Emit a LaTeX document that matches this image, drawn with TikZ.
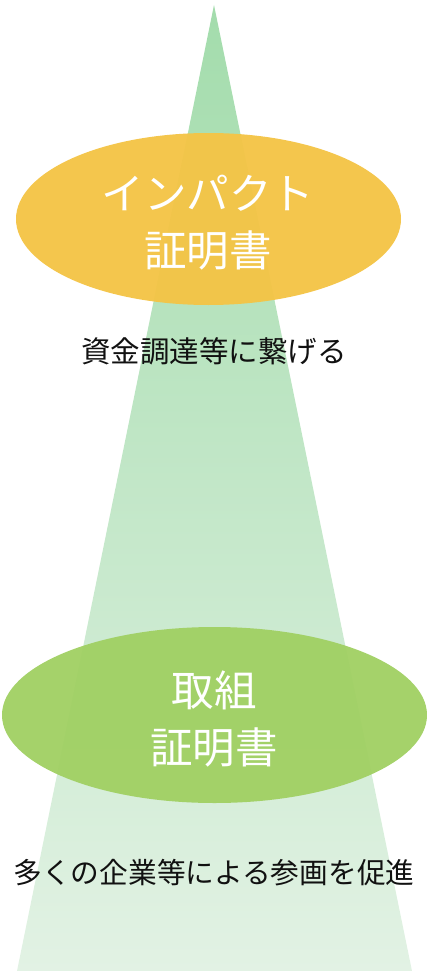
\documentclass[tikz,border=0pt]{standalone}
\usepackage{fontspec}
\setmainfont{Noto Sans CJK JP}
\newfontfamily\jpfont{Noto Sans CJK JP}
\definecolor{tritop}{HTML}{A3DCAC}
\definecolor{tribot}{HTML}{E2F2E4}
\definecolor{yel}{HTML}{F4C446}
\definecolor{grn}{HTML}{A1D064}
\definecolor{txt}{HTML}{111111}
\tikzset{
  oval/.style={draw=none, fill opacity=0.96},
  ovaltext/.style={text=white, font=\jpfont\fontsize{42.5}{57}\selectfont, align=center},
  caption/.style={text=txt, font=\jpfont\fontsize{29.5}{34}\selectfont}
}
\begin{document}
\begin{tikzpicture}[x=1pt,y=-1pt]
\useasboundingbox (0,0) rectangle (427,971);
\shade[top color=tritop, bottom color=tribot] (214,5) -- (412,971) -- (17,971) -- cycle;
\fill[yel, oval] (208.5,219) ellipse [x radius=192.5, y radius=86];
\fill[grn, oval] (214.5,715) ellipse [x radius=212.5, y radius=88];
\node[ovaltext] (t1) at (208,223) {インパクト\\証明書};
\node[ovaltext] (t2) at (214,719) {取組\\証明書};
\node[caption] (c1) at (214,351) {資金調達等に繋げる};
\node[caption, font=\jpfont\fontsize{28.7}{34}\selectfont] (c2) at (214,873) {多くの企業等による参画を促進};
\end{tikzpicture}
\end{document}
